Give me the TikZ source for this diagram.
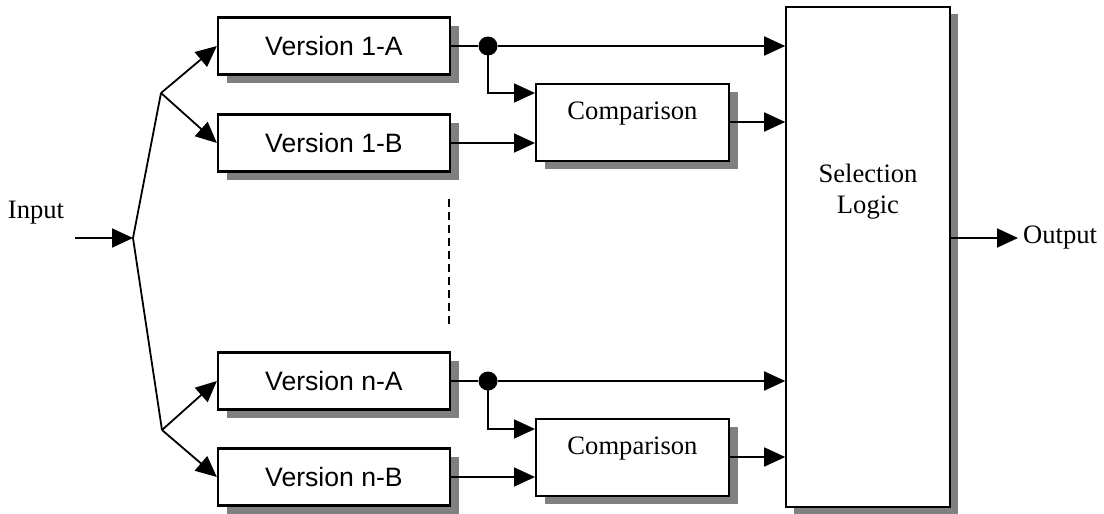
\documentclass[tikz,border=0pt]{standalone}
\usepackage{fontspec}
\setmainfont{Liberation Serif}
\newfontfamily\arialf{Liberation Sans}
\usetikzlibrary{arrows.meta,shadows,calc}
\begin{document}
\begin{tikzpicture}[x=1pt,y=-1pt,
  every node/.style={font=\fontsize{26.6}{31}\selectfont},
  shade/.style={drop shadow={shadow xshift=9pt,shadow yshift=-8pt,fill=black!50,opacity=1}},
  verbox/.style={draw,line width=2.3pt,fill=white,minimum width=232pt,minimum height=57pt,inner sep=0pt,shade,font=\arialf\fontsize{26.6}{31}\selectfont},
  cmpbox/.style={draw,line width=2pt,fill=white,minimum width=193pt,minimum height=77pt,inner sep=0pt,shade},
  selbox/.style={draw,line width=1.6pt,fill=white,minimum width=164pt,minimum height=500pt,inner sep=0pt,
     drop shadow={shadow xshift=8pt,shadow yshift=-7pt,fill=black!50,opacity=1}},
  plain/.style={inner sep=0pt,align=center},
  wire/.style={line width=1.8pt},
  arr/.style={wire,-{Triangle[length=21pt,width=19pt]}},
  dotst/.style={circle,fill=black,minimum size=19pt,inner sep=0pt}
]
\useasboundingbox (0,0) rectangle (1104,514);

% boxes
\node[verbox] (v1a) at (334,46) {Version 1-A};
\node[verbox] (v1b) at (334,143) {Version 1-B};
\node[verbox] (vna) at (334,381) {Version n-A};
\node[verbox] (vnb) at (334,477) {Version n-B};
\node[cmpbox] (c1) at (632.5,122) {};
\node[plain] at ([yshift=8pt]c1.center) {Comparison};
\node[cmpbox] (cn) at (632.5,457) {};
\node[plain] at ([yshift=8pt]cn.center) {Comparison};
\node[selbox] (sel) at (868,257) {};
\node[plain] (seltxt) at (868,192) {Selection\\Logic};

% input side
\node[plain] (inp) at (36,213) {Input};
\coordinate (src) at (75,238);
\coordinate (j) at (133,238);
\coordinate (f1) at (161,93);
\coordinate (fn) at (162,430);
\draw[arr] (src) -- (j);
\draw[wire,line join=miter] (f1) -- (j) -- (fn);
\draw[arr] (f1) -- (v1a.west);
\draw[arr] (f1) -- (v1b.west);
\draw[arr] (fn) -- (vna.west);
\draw[arr] (fn) -- (vnb.west);

% branch 1
\node[dotst] (d1) at (488,46) {};
\draw[wire] (v1a.east) -- (d1);
\draw[arr] (d1) -- (d1 -| sel.west);
\draw[arr] (d1.center) |- (c1.west |- 0,93);
\draw[arr] (v1b.east) -- (c1.west |- v1b.east);
\draw[arr] (c1.east) -- (sel.west |- c1.east);

% branch n
\node[dotst] (dn) at (488,381) {};
\draw[wire] (vna.east) -- (dn);
\draw[arr] (dn) -- (dn -| sel.west);
\draw[arr] (dn.center) |- (cn.west |- 0,429);
\draw[arr] (vnb.east) -- (cn.west |- vnb.east);
\draw[arr] (cn.east) -- (sel.west |- cn.east);

% dashed ellipsis
\coordinate (dt) at (449,199);
\coordinate (db) at (449,325);
\draw[line width=1.4pt,dash pattern=on 8pt off 5pt] (dt) -- (db);

% output
\node[plain,anchor=west] (outp) at (1023,238) {Output};
\draw[arr] (sel.east |- outp.west) -- ([xshift=-5pt]outp.west);
\end{tikzpicture}
\end{document}
